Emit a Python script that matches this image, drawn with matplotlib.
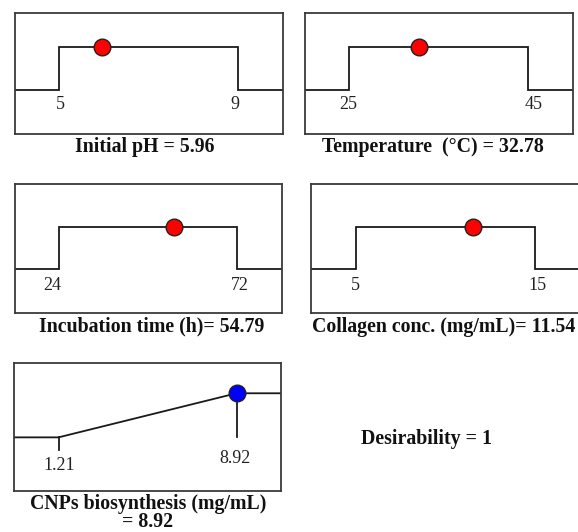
import matplotlib
matplotlib.use("Agg")
import matplotlib.pyplot as plt

# ---- data ----
factor_names = ["Initial pH = 5.96", "Temperature  (\u00b0C) = 32.78",
                "Incubation time (h)= 54.79", "Collagen conc. (mg/mL)= 11.54"]
factor_low = [5, 25, 24, 5]
factor_high = [9, 45, 72, 15]
factor_opt = [5.96, 32.78, 54.79, 11.54]
factor_low_labels = ["5", "25", "24", "5"]
factor_high_labels = ["9", "45", "72", "15"]

response_title = "CNPs biosynthesis (mg/mL)"
response_value_text = "= 8.92"
response_low = 1.21
response_high = 8.92
response_pred = 8.92
response_labels = ["1.21", "8.92"]
desirability = 1

W, H = 578, 532
fig = plt.figure(figsize=(W / 100, H / 100), dpi=100)
SERIF = ["Liberation Serif", "DejaVu Serif"]
LINE = "#1a1a1a"
BOX = "#3a3a3a"

def px_axes(x0, y0, x1, y1):
    return fig.add_axes([x0 / W, 1 - y1 / H, (x1 - x0) / W, (y1 - y0) / H])

def style(ax):
    ax.set_xticks([]); ax.set_yticks([])
    for s in ax.spines.values():
        s.set_color(BOX); s.set_linewidth(1.3)

# panel boxes (pixel layout) : x0, y0, x1, y1, ylim
boxes = [(14.7, 13, 283, 134, (-1.02, 1.78)),
         (304.7, 13, 573, 134, (-1.02, 1.78)),
         (14.7, 184, 282, 313, (-1.03, 2.0)),
         (311, 184.3, 579.5, 313.3, (-1.03, 2.0))]
title_pos = [(145, 147, "center"), (433, 147, "center"),
             (151.7, 326.7, "center"), (312, 326.7, "left")]
low_dx = [1, -1, -7, 0]
high_dx = [-3, 5, 2, 3]
label_dy = [-15, -15, -16, -16]

for i in range(4):
    x0, y0, x1, y1, yl = boxes[i]
    ax = px_axes(x0, y0, x1, y1)
    lo, hi = factor_low[i], factor_high[i]
    pad = 0.25 * (hi - lo)
    ax.plot([lo - pad, lo, lo, hi, hi, hi + pad], [0, 0, 1, 1, 0, 0],
            color=LINE, lw=1.3, solid_joinstyle="miter")
    ax.plot([factor_opt[i]], [1], "o", ms=12, mfc="#ff0000", mec="#222222", mew=1.0, zorder=5)
    ax.set_xlim(lo - pad, hi + pad)
    ax.set_ylim(*yl)
    ax.annotate(factor_low_labels[i], (lo, 0), xytext=(low_dx[i], label_dy[i]),
                textcoords="offset pixels", ha="center", va="center",
                fontsize=13, family=SERIF, color="#222222")
    ax.annotate(factor_high_labels[i], (hi, 0), xytext=(high_dx[i], label_dy[i]),
                textcoords="offset pixels", ha="center", va="center",
                fontsize=13, family=SERIF, color="#222222")
    style(ax)
    tx, ty, ha = title_pos[i]
    fig.text(tx / W, 1 - ty / H, factor_names[i], ha=ha, va="center",
             fontsize=14.3, fontweight="bold", family=SERIF, color="#111111")

# response panel
ax = px_axes(14, 363.3, 281, 490.7)
lo, hi = response_low, response_high
pad = 0.25 * (hi - lo)
ax.plot([lo - pad, lo, hi, hi + pad], [0, 0, 1, 1], color=LINE, lw=1.3)
ax.plot([lo, lo], [0, -0.29], color=LINE, lw=1.3)
ax.plot([response_pred, response_pred], [1, 0], color=LINE, lw=1.3)
ax.plot([response_pred], [1], "o", ms=12, mfc="#0000ff", mec="#222222", mew=1.0, zorder=5)
ax.set_xlim(lo - pad, hi + pad)
ax.set_ylim(-1.21, 1.68)
ax.annotate(response_labels[0], (lo, 0), xytext=(1, -28), textcoords="offset pixels",
            ha="center", va="center", fontsize=13, family=SERIF, color="#222222")
ax.annotate(response_labels[1], (hi, 0), xytext=(-2, -21), textcoords="offset pixels",
            ha="center", va="center", fontsize=13, family=SERIF, color="#222222")
style(ax)
fig.text(148 / W, 1 - 503.5 / H, response_title, ha="center", va="center",
         fontsize=14.3, fontweight="bold", family=SERIF, color="#111111")
fig.text(148 / W, 1 - 522 / H, response_value_text, ha="center", va="center",
         fontsize=14.3, fontweight="bold", family=SERIF, color="#111111")

fig.text(426.7 / W, 1 - 439.3 / H, f"Desirability = {desirability}", ha="center", va="center",
         fontsize=14.3, fontweight="bold", family=SERIF, color="#111111")

fig.savefig("out.png", dpi=100)
